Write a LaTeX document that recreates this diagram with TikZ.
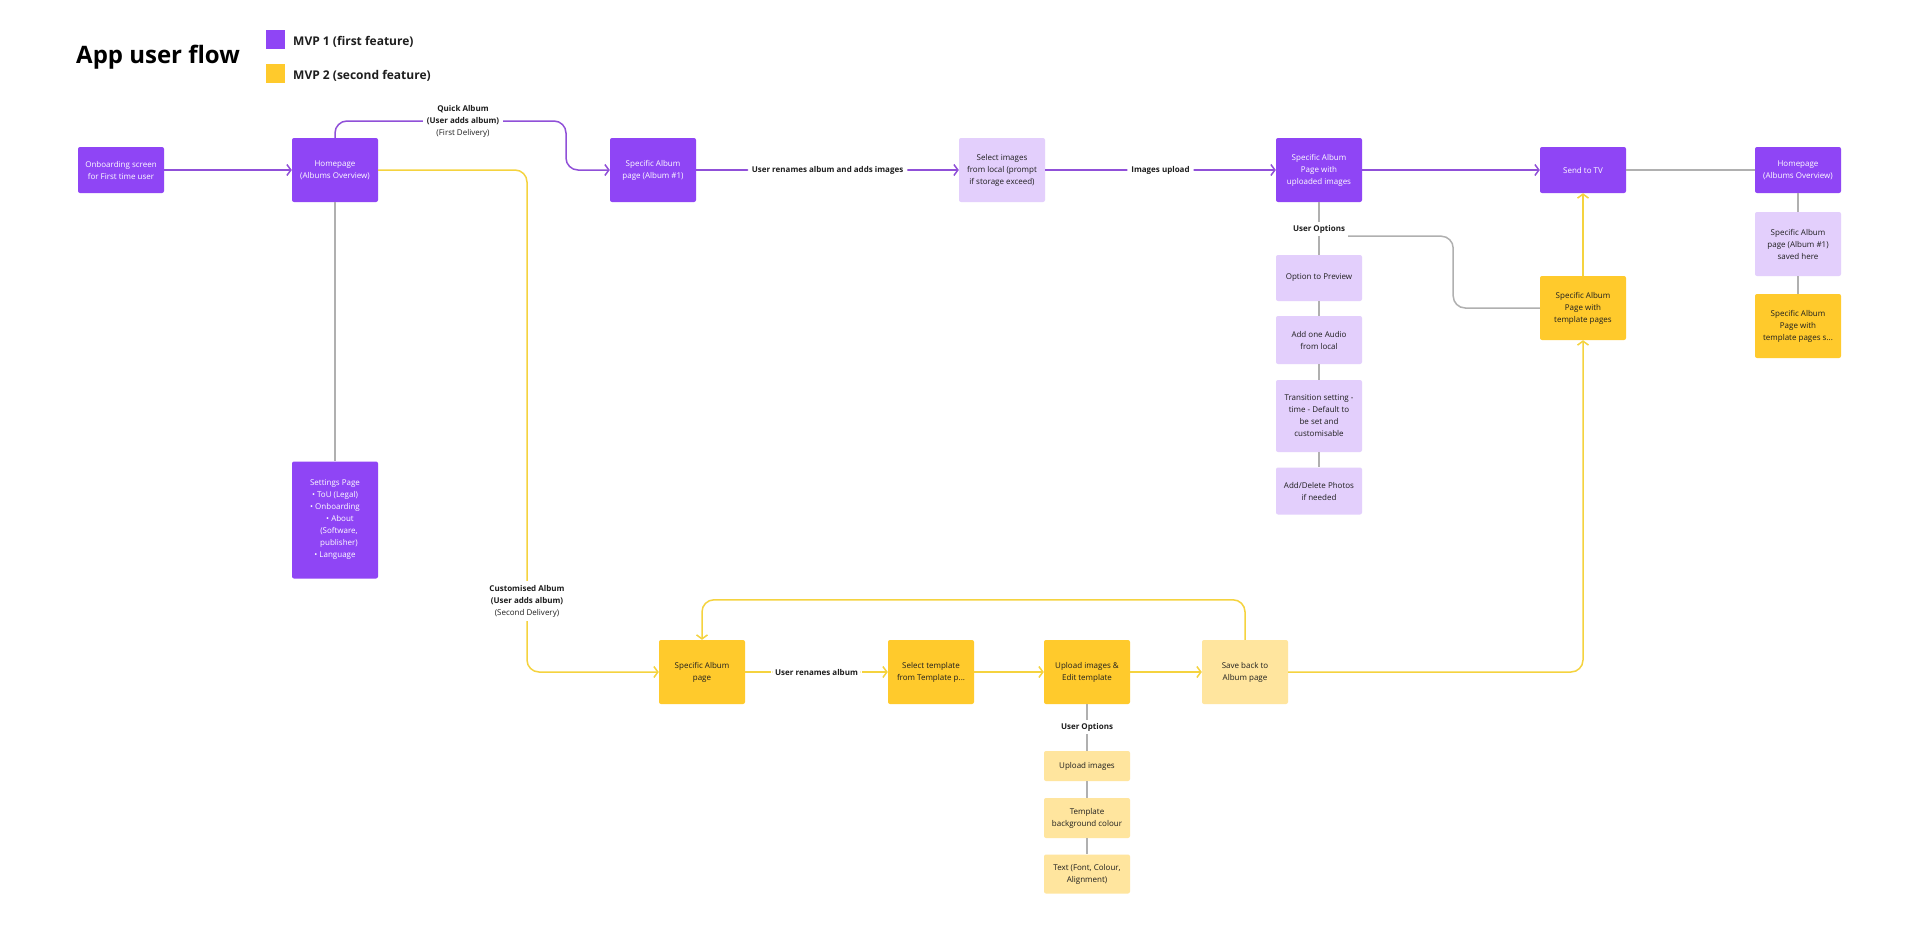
\documentclass[tikz,border=0pt]{standalone}
\usepackage{fontspec}
\setmainfont{Open Sans}
\usetikzlibrary{arrows.meta,calc}
\definecolor{purp}{HTML}{8F45F5}
\definecolor{lpurp}{HTML}{E3CFFC}
\definecolor{yel}{HTML}{FFCA2C}
\definecolor{lyel}{HTML}{FFE59E}
\definecolor{plin}{HTML}{9050D8}
\definecolor{ylin}{HTML}{F5D33F}
\definecolor{glin}{HTML}{B0B0B0}
\definecolor{ink}{HTML}{1E1E1E}
\begin{document}
\begin{tikzpicture}[x=1pt,y=-1pt,
 box/.style={rectangle, rounded corners=2pt, align=center, minimum width=86pt, inner sep=0pt, font=\fontsize{8}{12}\selectfont},
 pbox/.style={box, fill=purp, text=white},
 lpbox/.style={box, fill=lpurp, text=ink},
 ybox/.style={box, fill=yel, text=ink},
 lybox/.style={box, fill=lyel, text=ink},
 lbl/.style={fill=white, font=\fontsize{8}{12}\selectfont\bfseries, text=ink, inner sep=4pt, align=center},
 tip/.style={-{Straight Barb[length=4pt, width=11pt, line width=1.5pt]}},
 parr/.style={draw=plin, line width=1.5pt, tip, rounded corners=12pt},
 yarr/.style={draw=ylin, line width=1.5pt, tip, rounded corners=12pt},
 yline/.style={draw=ylin, line width=1.5pt, rounded corners=12pt},
 gline/.style={draw=glin, line width=1.5pt, rounded corners=12pt},
]
\fill[white] (0,0) rectangle (1920,934);
\useasboundingbox (0,0) rectangle (1920,934);

% title and legend
\node[anchor=west, inner sep=0pt, font=\fontsize{24}{28}\selectfont\bfseries, text=black] (title) at (76,57) {App user flow};
\node[fill=purp, minimum size=19pt, inner sep=0pt] (lg1) at (275.5,40) {};
\node[fill=yel, minimum size=19pt, inner sep=0pt] (lg2) at (275.5,74) {};
\node[anchor=west, inner sep=0pt, font=\fontsize{12}{14}\selectfont\bfseries, text=ink] (lt1) at (293,42) {MVP 1 (first feature)};
\node[anchor=west, inner sep=0pt, font=\fontsize{12}{14}\selectfont\bfseries, text=ink] (lt2) at (293,76) {MVP 2 (second feature)};

% top row
\node[pbox, minimum height=46pt] (onb) at (121,170) {Onboarding screen\\for First time user};
\node[pbox, minimum height=64pt] (home) at (335,170) {Homepage\\(Albums Overview)};
\node[pbox, minimum height=64pt] (sa1) at (653,170) {Specific Album\\page (Album \#1)};
\node[lpbox, minimum height=64pt] (sel) at (1002,170) {Select images\\from local (prompt\\if storage exceed)};
\node[pbox, minimum height=64pt] (upl) at (1319,170) {Specific Album\\Page with\\uploaded images};
\node[pbox, minimum height=46pt] (tv) at (1583,170) {Send to TV};
\node[pbox, minimum height=46pt] (home2) at (1798,170) {Homepage\\(Albums Overview)};
\node[lpbox, minimum height=64pt] (saved) at (1798,244) {Specific Album\\page (Album \#1)\\saved here};
\node[ybox, minimum height=64pt] (tps) at (1798,326) {Specific Album\\Page with\\template pages s...};

% user options column (MVP1)
\node[lbl, inner sep=3pt] (uo1) at (1319,229) {User Options};
\node[lpbox, minimum height=46pt] (prev) at (1319,278) {Option to Preview};
\node[lpbox, minimum height=48pt] (aud) at (1319,340) {Add one Audio\\from local};
\node[lpbox, minimum height=72pt] (trans) at (1319,416) {Transition setting -\\time - Default to\\be set and\\customisable};
\node[lpbox, minimum height=47pt] (adp) at (1319,491) {Add/Delete Photos\\if needed};

\node[ybox, minimum height=64pt] (tmpl) at (1583,308) {Specific Album\\Page with\\template pages};

% settings
\node[pbox, minimum height=117pt] (set) at (335,520) {Settings Page\\\textbullet\ ToU (Legal)\\\textbullet\ Onboarding\\\hspace{10pt}\textbullet\ About\\\hspace{8pt}(Software,\\\hspace{8pt}publisher)\\\textbullet\ Language};

% bottom row
\node[ybox, minimum height=64pt] (ysa) at (702,672) {Specific Album\\page};
\node[ybox, minimum height=64pt] (tsel) at (931,672) {Select template\\from Template p...};
\node[ybox, minimum height=64pt] (uped) at (1087,672) {Upload images \&\\Edit template};
\node[lybox, minimum height=64pt] (save) at (1245,672) {Save back to\\Album page};
\node[lbl, inner sep=3pt] (uo2) at (1087,727) {User Options};
\node[lybox, minimum height=30pt] (upi) at (1087,766) {Upload images};
\node[lybox, minimum height=40pt] (tbg) at (1087,818) {Template\\background colour};
\node[lybox, minimum height=39pt] (txt) at (1087,874) {Text (Font, Colour,\\Alignment)};

% purple connectors
\draw[parr] (onb) -- (home);
\draw[parr] (home.north) |- (566,121) |- (sa1.west);
\node[lbl] (qlbl) at (463,121) {Quick Album\\(User adds album)\\\mdseries(First Delivery)};
\draw[parr] (sa1) -- node[lbl] (l1) {User renames album and adds images} (sel);
\draw[parr] (sel) -- node[lbl] (l2) {Images upload} (upl);
\draw[parr] (upl) -- (tv);

% gray connectors
\draw[gline] (tv) -- (home2);
\draw[gline] (home2) -- (saved);
\draw[gline] (saved) -- (tps);
\draw[gline] (home) -- (set);
\draw[gline] (upl) -- (uo1);
\draw[gline] (uo1) -- (prev);
\draw[gline] (prev) -- (aud);
\draw[gline] (aud) -- (trans);
\draw[gline] (trans) -- (adp);
\draw[gline] (uo1.south east) -- ++(105,0) |- (tmpl.west);
\draw[gline] (uped) -- (uo2);
\draw[gline] (uo2) -- (upi);
\draw[gline] (upi) -- (tbg);
\draw[gline] (tbg) -- (txt);

% yellow connectors
\draw[yarr] (home.east) -| (527,600) |- (ysa.west);
\node[lbl] (clbl) at (527,601) {Customised Album\\(User adds album)\\\mdseries(Second Delivery)};
\draw[yarr] (ysa) -- node[lbl] (l3) {User renames album} (tsel);
\draw[yarr] (tsel) -- (uped);
\draw[yarr] (uped) -- (save);
\draw[yarr] (save.north) -- ++(0,-40) -| (ysa.north);
\draw[yarr] (save.east) -| (tmpl.south);
\draw[yarr] (tmpl.north) -- (tv.south);
\end{tikzpicture}
\end{document}
